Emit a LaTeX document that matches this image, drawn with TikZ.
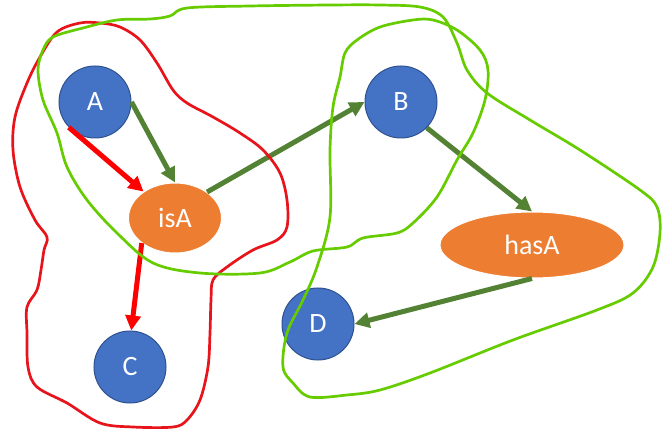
\documentclass[tikz,border=0pt]{standalone}
\usepackage{fontspec}
\setmainfont{Carlito}
\usetikzlibrary{arrows.meta,shapes.geometric}
\definecolor{nodeblue}{HTML}{4472C4}
\definecolor{nodeblueedge}{HTML}{2F528F}
\definecolor{nodeorange}{HTML}{ED7D31}
\definecolor{arrgreen}{HTML}{548235}
\definecolor{penred}{HTML}{E8141C}
\definecolor{pengreen}{HTML}{66CC00}
\tikzset{
  entity/.style={circle, fill=nodeblue, draw=nodeblueedge, line width=1pt, minimum size=72pt, inner sep=0pt, text=white, font=\fontsize{28}{30}\selectfont},
  relation/.style={ellipse, fill=nodeorange, draw=white, line width=1pt, inner sep=0pt, text=white, font=\fontsize{28}{30}\selectfont},
  greenarrow/.style={draw=arrgreen, line width=5pt, -{Triangle[length=15pt,width=15pt]}},
  redarrow/.style={draw=red, line width=5pt, -{Triangle[length=15pt,width=15pt]}},
  pen/.style={line width=2.7pt, line join=round}
}
\begin{document}
\begin{tikzpicture}[x=1pt,y=-1pt]
\useasboundingbox (0,0) rectangle (665,433);
% nodes
\node[entity] (A) at (95,102) {A};
\node[entity] (B) at (401,102) {B};
\node[entity] (C) at (130,367) {C};
\node[entity] (D) at (318,324) {D};
\node[relation, minimum width=93pt, minimum height=70pt] (isA) at (175,218) {isA};
\node[relation, minimum width=184pt, minimum height=66pt] (hasA) at (532,245) {hasA};
% arrows
\draw[redarrow] (A.224) -- (isA.140);
\draw[greenarrow] (A.0) -- (isA.north);
\draw[greenarrow] (isA.39) -- (B.west);
\draw[redarrow] (isA.217) -- (C.88);
\draw[greenarrow] (B.-45) -- (hasA.north);
\draw[greenarrow] (hasA.south) -- (D.east);
% red freehand loop
\draw[pen, draw=penred] plot[smooth cycle, tension=0.55] coordinates {
(57,32) (80,23) (100,23) (120,27) (140,40) (157,63) (173,90) (187,103) (213,117) (240,133) (263,150) (280,173) (287,200) (287,227) (277,240) (253,250) (227,267) (213,280) (211,300) (210,333) (208,367) (200,400) (187,420) (173,427) (133,427) (100,423) (67,403) (37,387) (28,367) (27,333) (27,307) (37,290) (41,270) (44,250) (47,237) (35,220) (20,187) (13,150) (15,117) (27,83) (40,57)};
% green freehand loop
\draw[pen, draw=pengreen] plot[smooth cycle, tension=0.55] coordinates {
(420,7) (380,5) (330,5) (250,6) (187,8) (170,16) (150,19) (117,20) (83,28) (53,37) (43,50) (38,70) (43,100) (57,133) (67,167) (87,200) (117,233) (153,263) (200,273) (260,273) (290,262) (313,251) (347,247) (363,238) (397,233) (413,223) (437,197) (457,160) (473,133) (485,100) (488,70) (480,50) (457,30) (433,20) (413,20) (380,27) (357,40) (345,53) (340,77) (333,107) (330,150) (330,217) (317,267) (303,300) (287,333) (283,367) (293,383) (310,397) (347,395) (380,390) (430,373) (513,340) (597,310) (633,293) (653,267) (660,233) (657,207) (640,190) (580,150) (530,120) (487,93) (467,70) (457,43) (443,17)};
\end{tikzpicture}
\end{document}
